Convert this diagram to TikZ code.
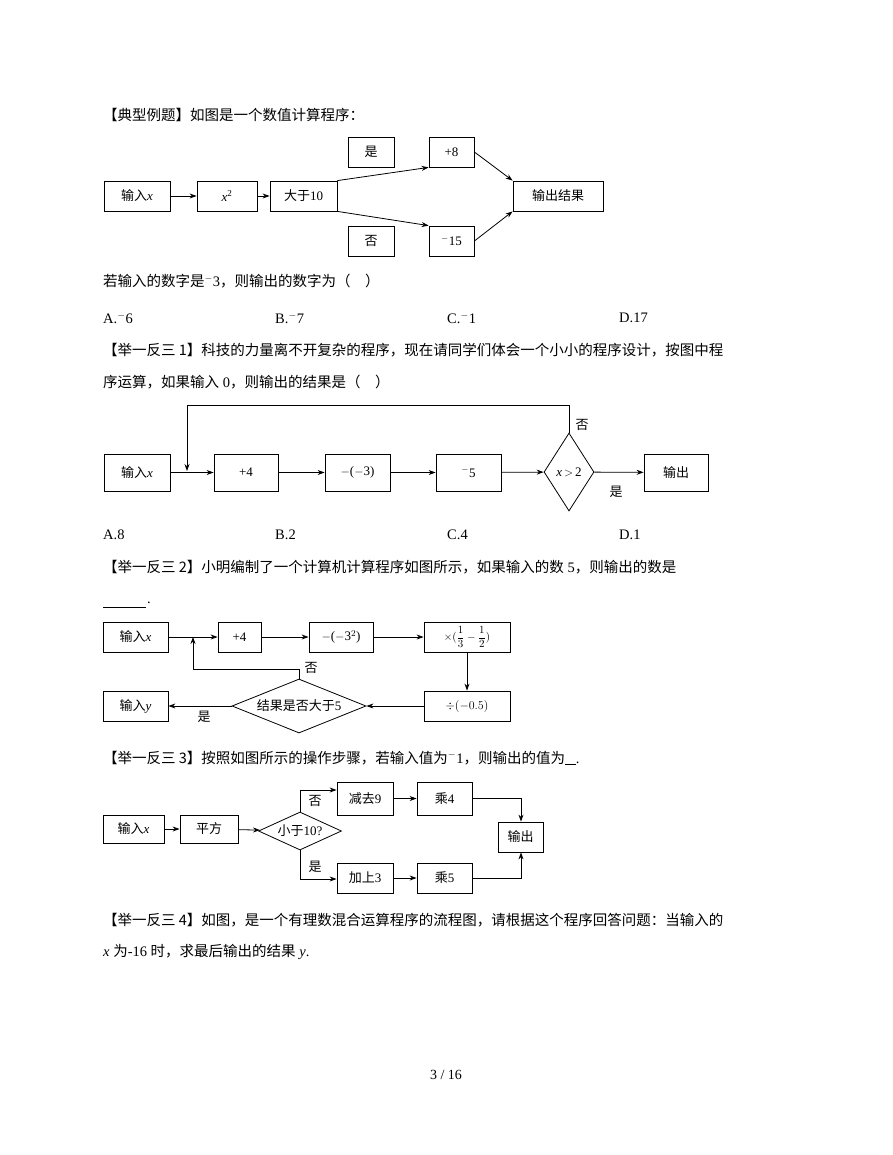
\documentclass[tikz,border=0pt]{standalone}
\usepackage{fontspec}
\setmainfont{Liberation Serif}
\newfontfamily\cjk{Noto Sans CJK SC}
\usetikzlibrary{shapes.geometric,arrows.meta}
\newcommand{\C}[1]{{\cjk #1}}
\begin{document}
\begin{tikzpicture}[x=1pt,y=-1pt,
  txt/.style={anchor=west,inner sep=0,font=\fontsize{14.5}{16}\selectfont},
  bx/.style={draw,line width=0.8pt,inner sep=0,font=\fontsize{13}{15}\selectfont},
  lb/.style={inner sep=0,font=\fontsize{13}{15}\selectfont},
  ar/.style={line width=0.8pt,-{Stealth[length=7pt,width=5pt]}},
  ln/.style={line width=0.8pt}]
\useasboundingbox (0,0) rectangle (892,1155);
\fill[white] (0,0) rectangle (892,1155);
% ---------- header 1
\node[txt] (t1) at (103,115) {\C{【典型例题】如图是一个数值计算程序：}};
\node[bx,minimum width=66,minimum height=30] (a1) at (137,196) {\C{输入}\textit{x}};
\node[bx,minimum width=60,minimum height=30] (a2) at (227,196) {\textit{x}\textsuperscript{2}};
\node[bx,minimum width=67,minimum height=30] (a3) at (303.5,196) {\C{大于}10};
\node[bx,minimum width=46,minimum height=30] (yes1) at (371,152) {\C{是}};
\node[bx,minimum width=46,minimum height=30] (no1) at (371,241) {\C{否}};
\node[bx,minimum width=45,minimum height=30] (p8) at (451.5,152) {+8};
\node[bx,minimum width=45,minimum height=30] (m15) at (451.5,241) {$^-$15};
\node[bx,minimum width=90,minimum height=30] (out1) at (558,196) {\C{输出结果}};
\draw[ar] (a1) -- (a2);
\draw[ar] (a2) -- (a3);
\draw[ar] (a3.north east) -- (p8.south west);
\draw[ar] (a3.south east) -- (m15.north west);
\draw[ar] (p8.east) -- (out1.north west);
\draw[ar] (m15.east) -- (out1.south west);
\node[txt] (q1) at (103,281) {\C{若输入的数字是}$^-$3\C{，则输出的数字为（\quad ）}};
\node[txt] (o1a) at (103,318) {A.$^-$6};
\node[txt] (o1b) at (275,318) {B.$^-$7};
\node[txt] (o1c) at (447,318) {C.$^-$1};
\node[txt] (o1d) at (619,318) {D.17};
% ---------- 2
\node[txt] (t2) at (103,350) {\C{【举一反三 1】科技的力量离不开复杂的程序，现在请同学们体会一个小小的程序设计，按图中程}};
\node[txt] (t2b) at (103,382) {\C{序运算，如果输入} 0\C{，则输出的结果是（\quad ）}};
\node[bx,minimum width=66,minimum height=37] (b1) at (137,472.5) {\C{输入}\textit{x}};
\node[bx,minimum width=64,minimum height=37] (b2) at (246,472.5) {+4};
\node[bx,minimum width=65,minimum height=37] (b3) at (357.5,472.5) {$-$($-$3)};
\node[bx,minimum width=65,minimum height=37] (b4) at (468.5,472.5) {$^-$5};
\node[draw,diamond,line width=0.8pt,minimum width=50,minimum height=78,inner sep=0,font=\fontsize{13}{15}\selectfont] (b5) at (569,472) {\textit{x}$\,{>}\,$2};
\node[bx,minimum width=64,minimum height=37] (b6) at (676,472.5) {\C{输出}};
\node[lb] (no2) at (582,425) {\C{否}};
\node[lb] (yes2) at (616,492) {\C{是}};
\coordinate (j2) at (187,471);
\coordinate (c2a) at (569,405);
\coordinate (c2b) at (187,405);
\draw[ar] (b1) -- (b2);
\draw[ar] (b2) -- (b3);
\draw[ar] (b3) -- (b4);
\draw[ar] (b4) -- (b5);
\draw[ar] (b5) -- (b6);
\draw[ar] (b5.north) -- (c2a) -- (c2b) -- (j2);
\node[txt] (o2a) at (103,535) {A.8};
\node[txt] (o2b) at (275,535) {B.2};
\node[txt] (o2c) at (447,535) {C.4};
\node[txt] (o2d) at (619,535) {D.1};
% ---------- 3
\node[txt] (t3) at (103,567) {\C{【举一反三 2】小明编制了一个计算机计算程序如图所示，如果输入的数} 5\C{，则输出的数是}};
\coordinate (u1) at (103,607); \coordinate (u2) at (146,607);
\draw[line width=0.6pt] (u1) -- (u2);
\node[txt] (dot3) at (147,603) {.};
\node[bx,minimum width=65,minimum height=30] (c1) at (135.5,637) {\C{输入}\textit{x}};
\node[bx,minimum width=43,minimum height=30] (c2) at (239.5,637) {+4};
\node[bx,minimum width=64,minimum height=30] (c3) at (341,637) {$-$($-$3$^2$)};
\node[bx,minimum width=86,minimum height=30,font=\fontsize{11}{12}\selectfont] (c4) at (467,637) {$\times(\displaystyle\frac{1}{3}-\frac{1}{2})$};
\node[bx,minimum width=86,minimum height=30] (c5) at (467,706) {$\div(-0.5)$};
\node[draw,diamond,aspect=2.5,line width=0.8pt,minimum width=134,minimum height=54,inner sep=0,font=\fontsize{13}{15}\selectfont] (c6) at (299,706) {\C{结果是否大于}5};
\node[bx,minimum width=65,minimum height=30] (c7) at (135.5,706) {\C{输入}\textit{y}};
\node[lb] (no3) at (311,668) {\C{否}};
\node[lb] (yes3) at (204,717) {\C{是}};
\coordinate (c3a) at (299,669);
\coordinate (c3b) at (193,669);
\coordinate (c3c) at (193,637);
\draw[ar] (c1) -- (c2);
\draw[ar] (c2) -- (c3);
\draw[ar] (c3) -- (c4);
\draw[ar] (c4) -- (c5);
\draw[ar] (c5) -- (c6);
\draw[ar] (c6) -- (c7);
\draw[ar] (c6.north) -- (c3a) -- (c3b) -- (c3c);
% ---------- 4
\node[txt] (t4) at (103,758) {\C{【举一反三 3】按照如图所示的操作步骤，若输入值为}$^-$1\C{，则输出的值为}\underline{\ \ \ }.};
\node[bx,minimum width=61,minimum height=28] (d1) at (133.5,829) {\C{输入}\textit{x}};
\node[bx,minimum width=58,minimum height=28] (d2) at (209,829) {\C{平方}};
\node[draw,diamond,aspect=2.2,line width=0.8pt,minimum width=83,minimum height=38,inner sep=0,font=\fontsize{13}{15}\selectfont] (d3) at (300,831) {\C{小于}10?};
\node[bx,minimum width=56,minimum height=33] (d4) at (365,798.5) {\C{减去}9};
\node[bx,minimum width=55,minimum height=33] (d5) at (444.5,798.5) {\C{乘}4};
\node[bx,minimum width=56,minimum height=30] (d6) at (365,878) {\C{加上}3};
\node[bx,minimum width=55,minimum height=30] (d7) at (444.5,878) {\C{乘}5};
\node[bx,minimum width=45,minimum height=30] (d8) at (520.5,837) {\C{输出}};
\node[lb] (no4) at (315,801) {\C{否}};
\node[lb] (yes4) at (315,867) {\C{是}};
\coordinate (k1) at (300,790);
\coordinate (k2) at (300,879);
\coordinate (k3) at (521,798.5);
\coordinate (k4) at (521,878);
\draw[ar] (d1) -- (d2);
\draw[ar] (d2) -- (d3);
\draw[ar] (d3.north) -- (k1) -- (d4.west |- k1);
\draw[ar] (d3.south) -- (k2) -- (d6.west |- k2);
\draw[ar] (d4) -- (d5);
\draw[ar] (d6) -- (d7);
\draw[ar] (d5.east) -- (k3) -- (d8.north -| k3);
\draw[ar] (d7.east) -- (k4) -- (d8.south -| k4);
% ---------- 5
\node[txt] (t5) at (103,920) {\C{【举一反三 4】如图，是一个有理数混合运算程序的流程图，请根据这个程序回答问题：当输入的}};
\node[txt] (t5b) at (103,952) {\textit{x} \C{为}-16 \C{时，求最后输出的结果} \textit{y}.};
\node[inner sep=0,font=\fontsize{14}{16}\selectfont] (pg) at (446,1075) {3 / 16};
\end{tikzpicture}
\end{document}
